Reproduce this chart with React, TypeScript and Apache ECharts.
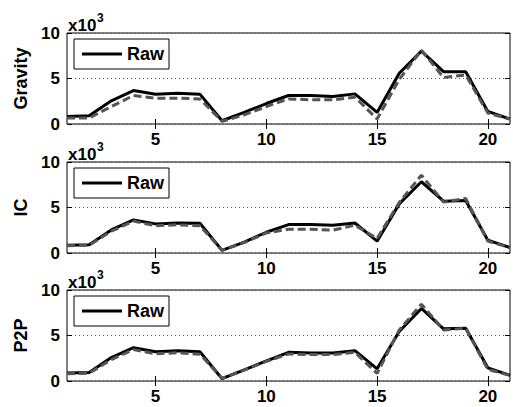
import React, { useEffect, useRef } from "react";
import * as echarts from "echarts";

const xs = [1, 2, 3, 4, 5, 6, 7, 8, 9, 10, 11, 12, 13, 14, 15, 16, 17, 18, 19, 20, 21];
const xTicks = [5, 10, 15, 20];
const panelNames = ["Gravity", "IC", "P2P"];

const gravityRaw = [0.83, 0.9, 2.55, 3.67, 3.28, 3.39, 3.28, 0.36, 1.27, 2.25, 3.13, 3.13, 3.02, 3.31, 1.27, 5.57, 8.01, 5.75, 5.75, 1.38, 0.55];
const gravityFit = [0.65, 0.65, 1.92, 3.13, 2.84, 2.84, 2.76, 0.29, 1.0, 1.92, 2.76, 2.66, 2.66, 2.95, 0.55, 4.9, 8.12, 5.1, 5.39, 1.2, 0.55];

const icRaw = [0.84, 0.91, 2.54, 3.63, 3.2, 3.3, 3.27, 0.29, 1.2, 2.28, 3.12, 3.12, 3.05, 3.3, 1.3, 5.4, 7.83, 5.7, 5.76, 1.41, 0.59];
const icFit = [0.8, 0.85, 2.4, 3.5, 3.0, 3.1, 3.0, 0.3, 1.15, 2.2, 2.61, 2.61, 2.5, 3.05, 1.6, 5.55, 8.55, 5.59, 6.0, 1.3, 0.59];

const p2pRaw = [0.87, 0.94, 2.58, 3.66, 3.22, 3.33, 3.22, 0.25, 1.23, 2.2, 3.15, 3.08, 3.08, 3.33, 1.34, 5.43, 7.97, 5.73, 5.8, 1.45, 0.62];
const p2pFit = [0.8, 0.85, 2.35, 3.45, 3.0, 3.1, 2.95, 0.3, 1.2, 2.15, 2.97, 2.9, 2.9, 3.15, 0.84, 5.6, 8.45, 5.6, 5.8, 1.27, 0.62];

const rawSets = [gravityRaw, icRaw, p2pRaw];
const fitSets = [gravityFit, icFit, p2pFit];

const FONT = "Liberation Sans";
const gridTops = [33, 162, 290];
const GRID_H = 91;

export default function App() {
  const ref = useRef<HTMLDivElement>(null);
  useEffect(() => {
    document.body.style.margin = "0";
    if (!ref.current) return;
    const chart = echarts.init(ref.current, null, { renderer: "svg" });

    const grids: any[] = [];
    const xAxes: any[] = [];
    const yAxes: any[] = [];
    const series: any[] = [];
    const legends: any[] = [];
    const graphics: any[] = [];

    gridTops.forEach((top, i) => {
      grids.push({
        left: 67,
        right: 3,
        top,
        height: GRID_H,
        show: true,
        borderColor: "#000",
        borderWidth: 1,
        backgroundColor: "#fff",
      });
      xAxes.push({
        type: "value",
        gridIndex: i,
        min: 1,
        max: 21,
        axisLine: { show: false },
        axisTick: { show: true, inside: true, length: 5, lineStyle: { color: "#000" }, customValues: xTicks },
        axisLabel: {
          show: true,
          customValues: xTicks,
          color: "#000",
          fontSize: 17,
          fontWeight: "bold",
          fontFamily: FONT,
          margin: 7,
        },
        splitLine: { show: false },
      });
      xAxes.push({
        type: "value",
        gridIndex: i,
        position: "top",
        min: 1,
        max: 21,
        axisLine: { show: false },
        axisTick: { show: true, inside: true, length: 5, lineStyle: { color: "#000" }, customValues: xTicks },
        axisLabel: { show: false },
        splitLine: { show: false },
      });
      yAxes.push({
        type: "value",
        gridIndex: i,
        min: 0,
        max: 10,
        interval: 5,
        name: panelNames[i],
        nameLocation: "middle",
        nameGap: 34,
        nameTextStyle: { color: "#000", fontSize: 18, fontWeight: "bold", fontFamily: FONT },
        axisLine: { show: false },
        axisTick: { show: true, inside: true, length: 5, lineStyle: { color: "#000" } },
        axisLabel: { color: "#000", fontSize: 17, fontWeight: "bold", fontFamily: FONT, margin: 7 },
        splitLine: { show: true, lineStyle: { color: "#555", type: [1, 3], width: 1 } },
      });
      yAxes.push({
        type: "value",
        gridIndex: i,
        position: "right",
        min: 0,
        max: 10,
        interval: 5,
        axisLine: { show: false },
        axisTick: { show: true, inside: true, length: 5, lineStyle: { color: "#000" } },
        axisLabel: { show: false },
        splitLine: { show: false },
      });
      series.push({
        type: "line",
        name: "Raw",
        xAxisIndex: 2 * i,
        yAxisIndex: 2 * i,
        data: xs.map((x, k) => [x, rawSets[i][k]]),
        symbol: "none",
        lineStyle: { color: "#000", width: 3 },
        itemStyle: { color: "#000" },
        z: 3,
      });
      series.push({
        type: "line",
        name: "Fit",
        xAxisIndex: 2 * i,
        yAxisIndex: 2 * i,
        data: xs.map((x, k) => [x, fitSets[i][k]]),
        symbol: "none",
        lineStyle: { color: "#555", width: 3, type: [8, 4] },
        itemStyle: { color: "#555" },
        z: 4,
      });
      legends.push({
        data: ["Raw"],
        left: 74,
        top: top + 6,
        orient: "horizontal",
        backgroundColor: "#fff",
        borderColor: "#000",
        borderWidth: 1,
        borderRadius: 0,
        padding: [6, 5, 6, 8],
        itemWidth: 40,
        itemHeight: 14,
        itemGap: 5,
        icon: "path://M0,5.5 L40,5.5 L40,8.5 L0,8.5 Z",
        itemStyle: { color: "#000" },
        selectedMode: false,
        textStyle: { color: "#000", fontSize: 18, fontWeight: "bold", fontFamily: FONT, padding: [0, 0, 0, 0] },
      });
      graphics.push({
        type: "text",
        left: 68,
        top: top - 16,
        style: { text: "x10", fill: "#000", fontSize: 17, fontWeight: "bold", fontFamily: FONT },
      });
      graphics.push({
        type: "text",
        left: 97,
        top: top - 21,
        style: { text: "3", fill: "#000", fontSize: 12, fontWeight: "bold", fontFamily: FONT },
      });
    });

    chart.setOption({
      animation: false,
      backgroundColor: "#fff",
      grid: grids,
      xAxis: xAxes,
      yAxis: yAxes,
      series,
      legend: legends,
      graphic: graphics,
    });
    return () => chart.dispose();
  }, []);
  return <div ref={ref} style={{ width: 513, height: 407 }} />;
}
